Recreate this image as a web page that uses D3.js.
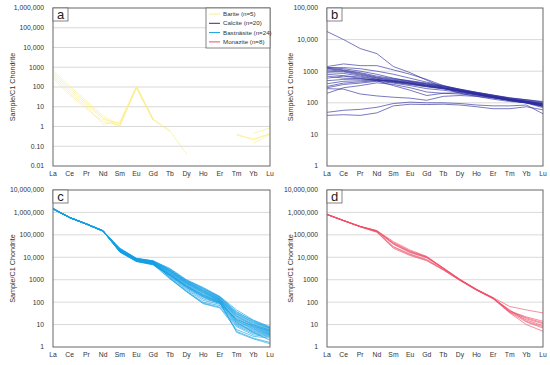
<!DOCTYPE html>
<html>
<head>
<meta charset="utf-8">
<script src="https://cdn.jsdelivr.net/npm/d3@7"></script>
<style>
  body { margin: 0; background: #fff; }
  text { font-family: "Liberation Sans", Arial, sans-serif; }
</style>
</head>
<body>
<div id="chart"></div>
<script>
// REE categories (x axis)
const categories = ["La","Ce","Pr","Nd","Sm","Eu","Gd","Tb","Dy","Ho","Er","Tm","Yb","Lu"];

// tick values / labels per panel
const ticksA = [0.01, 0.1, 1, 10, 100, 1000, 10000, 100000, 1000000];
const tickLabelsA = ["0.01","0.10","1","10","100","1000","10,000","100,000","1,000,000"];
const ticksB = [1, 10, 100, 1000, 10000, 100000];
const tickLabelsB = ["1","10","100","1000","10,000","100,000"];
const ticksCD = [1, 10, 100, 1000, 10000, 100000, 1000000, 10000000];
const tickLabelsCD = ["1","10","100","1000","10,000","100,000","1,000,000","10,000,000"];

// Barite (n=5), null = not detected
const bariteSeries = [
  [700, 110, 20, 3.5, 1.2, 105, 2.4, 0.62, 0.04, null, null, 0.42, 0.2, 0.45],
  [550, 85, 16, 2.8, 1.0, 100, 2.2, 0.55, null, null, null, 0.36, 0.24, 0.42],
  [450, 65, 13, 2.3, 1.4, 95, 2.1, null, null, null, null, null, 0.45, 0.85],
  [350, 50, 10, 1.3, 1.7, 110, 2.3, null, null, null, null, null, 0.14, 0.4],
  [280, 40, 8, 1.8, 1.1, 90, 2.0, null, null, null, null, null, null, null]
];

// Calcite (n=20)
const calciteSeries = [
  [18000, 10000, 5200, 3600, 1400, 900, 520, 300, 200, 160, 130, 110, 100, 85],
  [1400, 1700, 1500, 1500, 1100, 800, 550, 350, 250, 190, 150, 125, 110, 90],
  [1300, 1200, 1000, 800, 600, 480, 400, 330, 260, 210, 170, 140, 120, 100],
  [1250, 1100, 900, 700, 580, 500, 420, 340, 270, 215, 175, 145, 125, 105],
  [1200, 1050, 850, 650, 550, 470, 390, 320, 255, 205, 165, 135, 115, 95],
  [1100, 1000, 800, 620, 520, 450, 380, 310, 250, 200, 160, 130, 110, 90],
  [1000, 950, 750, 600, 500, 430, 360, 300, 240, 195, 158, 128, 108, 88],
  [900, 850, 700, 560, 480, 410, 340, 290, 235, 190, 155, 125, 105, 80],
  [800, 720, 650, 550, 470, 400, 330, 280, 230, 185, 150, 120, 100, 75],
  [700, 600, 580, 520, 440, 380, 320, 275, 225, 180, 145, 118, 98, 70],
  [500, 550, 560, 540, 450, 390, 330, 285, 232, 188, 152, 122, 102, 78],
  [400, 480, 500, 520, 480, 420, 350, 290, 240, 195, 158, 128, 108, 85],
  [330, 420, 460, 500, 500, 430, 360, 300, 245, 200, 162, 132, 112, 92],
  [300, 380, 420, 480, 420, 350, 280, 250, 215, 180, 148, 120, 100, 80],
  [280, 270, 190, 165, 150, 140, 120, 160, 170, 160, 140, 118, 100, 80],
  [200, 300, 350, 430, 380, 300, 220, 200, 190, 170, 145, 120, 105, 85],
  [50, 58, 62, 72, 95, 105, 100, 100, 95, 85, 80, 80, 85, 45],
  [40, 42, 40, 48, 80, 90, 88, 90, 85, 75, 65, 65, 75, 60],
  [600, 700, 600, 500, 350, 250, 170, 200, 210, 180, 150, 125, 110, 95],
  [1300, 1300, 1200, 1000, 800, 600, 450, 350, 270, 215, 175, 140, 125, 110]
];

// Bastnasite (n=24)
const bastnasiteSeries = [
  [1500000, 600000, 310000, 150000, 26000, 9000, 7000, 3200, 1000, 450, 180, 45, 16, 8],
  [1450000, 590000, 305000, 148000, 24000, 8800, 6800, 3000, 950, 420, 170, 38, 14, 7],
  [1480000, 585000, 300000, 145000, 23000, 8500, 6500, 2800, 880, 380, 160, 32, 12, 6.5],
  [1420000, 580000, 300000, 152000, 22000, 8200, 6200, 2600, 820, 350, 150, 28, 11, 6],
  [1500000, 600000, 312000, 155000, 21000, 8000, 6000, 2400, 760, 320, 140, 25, 10, 5.5],
  [1460000, 590000, 305000, 150000, 20000, 7800, 5800, 2200, 700, 290, 130, 22, 9, 5],
  [1440000, 580000, 300000, 146000, 19500, 7500, 5600, 2000, 640, 260, 120, 20, 8, 4.8],
  [1480000, 595000, 308000, 150000, 19000, 7200, 5400, 1900, 600, 240, 115, 18, 7.5, 4.5],
  [1500000, 600000, 310000, 152000, 18500, 7000, 5200, 1800, 560, 220, 110, 16, 7, 4.2],
  [1430000, 578000, 298000, 144000, 18000, 6800, 5000, 1700, 520, 200, 105, 15, 6.5, 4],
  [1470000, 588000, 304000, 148000, 17500, 6600, 4800, 1600, 480, 180, 100, 14, 6, 3.8],
  [1450000, 585000, 302000, 147000, 17000, 6400, 4600, 1500, 440, 160, 95, 12, 5.5, 3.6],
  [1490000, 598000, 309000, 151000, 20500, 7600, 5500, 1400, 400, 140, 90, 11, 5, 3.4],
  [1460000, 590000, 305000, 149000, 21500, 7900, 5900, 1300, 360, 120, 80, 10, 4.5, 3.2],
  [1440000, 582000, 300000, 146000, 22500, 8300, 6300, 1200, 320, 100, 70, 9, 4, 3],
  [1470000, 592000, 306000, 150000, 18800, 7100, 5100, 1150, 300, 90, 60, 8, 3.5, 2.8],
  [1500000, 600000, 311000, 153000, 17800, 6700, 4700, 1100, 290, 85, 55, 6, 3, 2.5],
  [1430000, 580000, 299000, 145000, 23500, 8600, 6600, 2500, 800, 340, 140, 30, 13, 7],
  [1490000, 596000, 308000, 151000, 24500, 8900, 6900, 2700, 900, 400, 165, 35, 15, 7.5],
  [1450000, 586000, 303000, 148000, 20000, 7400, 5300, 1750, 540, 210, 100, 5, 2.5, 1.6],
  [1470000, 590000, 305000, 150000, 19200, 7000, 4900, 1650, 500, 190, 95, 4.5, 2.3, 1.4],
  [1460000, 588000, 304000, 149000, 21000, 7700, 5700, 2100, 680, 270, 120, 13, 4.5, 2],
  [1480000, 594000, 307000, 151000, 22000, 8100, 6100, 2300, 740, 300, 125, 24, 9.5, 5.8],
  [1440000, 584000, 301000, 147000, 18200, 6900, 5000, 1550, 460, 170, 85, 17, 8.5, 5.2]
];

// Monazite (n=8)
const monaziteSeries = [
  [830000, 440000, 240000, 155000, 50000, 21000, 11000, 3400, 1050, 380, 160, 64, 45, 33],
  [820000, 435000, 235000, 150000, 45000, 19000, 10500, 3300, 1020, 370, 155, 40, 22, 14],
  [810000, 430000, 232000, 145000, 40000, 17000, 10000, 3200, 1000, 360, 150, 38, 20, 12],
  [830000, 440000, 238000, 152000, 42000, 18000, 10200, 3250, 1010, 365, 152, 36, 16, 9],
  [800000, 425000, 230000, 140000, 30000, 14000, 8000, 2900, 950, 350, 145, 35, 13, 7],
  [790000, 420000, 228000, 130000, 25000, 12000, 7000, 2700, 920, 340, 140, 33, 10, 5],
  [810000, 430000, 234000, 135000, 28000, 13000, 7500, 2800, 940, 345, 148, 45, 14, 8],
  [820000, 435000, 236000, 148000, 38000, 16000, 9500, 3100, 980, 355, 150, 42, 18, 11]
];

const legendNames = ["Barite (n=5)", "Calcite (n=20)", "Bastnäsite (n=24)", "Monazite (n=8)"];
const colors = ["#fbee86", "#2c2c9e", "#139fe4", "#f04e68"];

const svg = d3.select("#chart").append("svg")
    .attr("width", 550)
    .attr("height", 365);

svg.append("rect").attr("width", 550).attr("height", 365).attr("fill", "#fff");

function drawPanel(p) {
    const g = svg.append("g");
    const x = d3.scalePoint().domain(categories).range([p.left, p.right]);
    const y = d3.scaleLog().domain([p.ticks[0], p.ticks[p.ticks.length - 1]]).range([p.bottom, p.top]);

    // gridlines
    g.selectAll(".grid")
        .data(p.ticks.slice(1, -1))
        .enter().append("line")
        .attr("x1", p.left).attr("x2", p.right)
        .attr("y1", d => y(d)).attr("y2", d => y(d))
        .attr("stroke", "#cfcfcf")
        .attr("stroke-width", 0.8);

    // tick labels
    g.selectAll(".ylab")
        .data(p.ticks)
        .enter().append("text")
        .attr("x", p.left - 9)
        .attr("y", d => y(d))
        .attr("dy", "0.35em")
        .attr("text-anchor", "end")
        .attr("font-size", 6.8)
        .attr("fill", "#333")
        .text((d, i) => p.tickLabels[i]);

    g.selectAll(".xlab")
        .data(categories)
        .enter().append("text")
        .attr("x", d => x(d))
        .attr("y", p.bottom + 9.5)
        .attr("text-anchor", "middle")
        .attr("font-size", 6.8)
        .attr("fill", "#333")
        .text(d => d);

    // axis title
    g.append("text")
        .attr("transform", `translate(${p.titleX},${(p.top + p.bottom) / 2}) rotate(-90)`)
        .attr("dy", "0.35em")
        .attr("text-anchor", "middle")
        .attr("font-size", 7.2)
        .attr("fill", "#333")
        .text("Sample/C1 Chondrite");

    // lines
    const line = d3.line()
        .defined(d => d != null)
        .x((d, i) => x(categories[i]))
        .y(d => y(d));

    g.append("g")
        .selectAll("path")
        .data(p.series)
        .enter().append("path")
        .attr("d", line)
        .attr("fill", "none")
        .attr("stroke", p.color)
        .attr("stroke-opacity", 0.8)
        .attr("stroke-width", 0.8);

    // border
    g.append("rect")
        .attr("x", p.left).attr("y", p.top)
        .attr("width", p.right - p.left).attr("height", p.bottom - p.top)
        .attr("fill", "none")
        .attr("stroke", "#666")
        .attr("stroke-width", 1);

    // panel letter
    g.append("rect")
        .attr("x", p.left).attr("y", p.top)
        .attr("width", 15).attr("height", 13)
        .attr("fill", "#fff")
        .attr("stroke", "#666")
        .attr("stroke-width", 0.8);
    g.append("text")
        .attr("x", p.left + 7.5).attr("y", p.top + 11)
        .attr("text-anchor", "middle")
        .attr("font-size", 13)
        .attr("fill", "#222")
        .text(p.letter);
    return g;
}

const gA = drawPanel({left: 53, right: 270, top: 8, bottom: 166, titleX: 12,
    ticks: ticksA, tickLabels: tickLabelsA, series: bariteSeries, color: colors[0], letter: "a"});
drawPanel({left: 327, right: 543, top: 8, bottom: 166, titleX: 290,
    ticks: ticksB, tickLabels: tickLabelsB, series: calciteSeries, color: colors[1], letter: "b"});
drawPanel({left: 53, right: 270, top: 190, bottom: 347, titleX: 12,
    ticks: ticksCD, tickLabels: tickLabelsCD, series: bastnasiteSeries, color: colors[2], letter: "c"});
drawPanel({left: 327, right: 543, top: 190, bottom: 347, titleX: 290,
    ticks: ticksCD, tickLabels: tickLabelsCD, series: monaziteSeries, color: colors[3], letter: "d"});

// legend in panel a
const legend = gA.append("g");
legend.append("rect")
    .attr("x", 206).attr("y", 8)
    .attr("width", 64).attr("height", 40)
    .attr("fill", "#fff")
    .attr("stroke", "#666")
    .attr("stroke-width", 0.8);
const entry = legend.selectAll(".entry")
    .data(legendNames)
    .enter().append("g")
    .attr("transform", (d, i) => `translate(0,${14 + i * 9.3})`);
entry.append("line")
    .attr("x1", 209).attr("x2", 220)
    .attr("stroke", (d, i) => colors[i])
    .attr("stroke-width", 1);
entry.append("text")
    .attr("x", 223).attr("dy", "0.35em")
    .attr("font-size", 6.2)
    .attr("fill", "#333")
    .text(d => d);
</script>
</body>
</html>
